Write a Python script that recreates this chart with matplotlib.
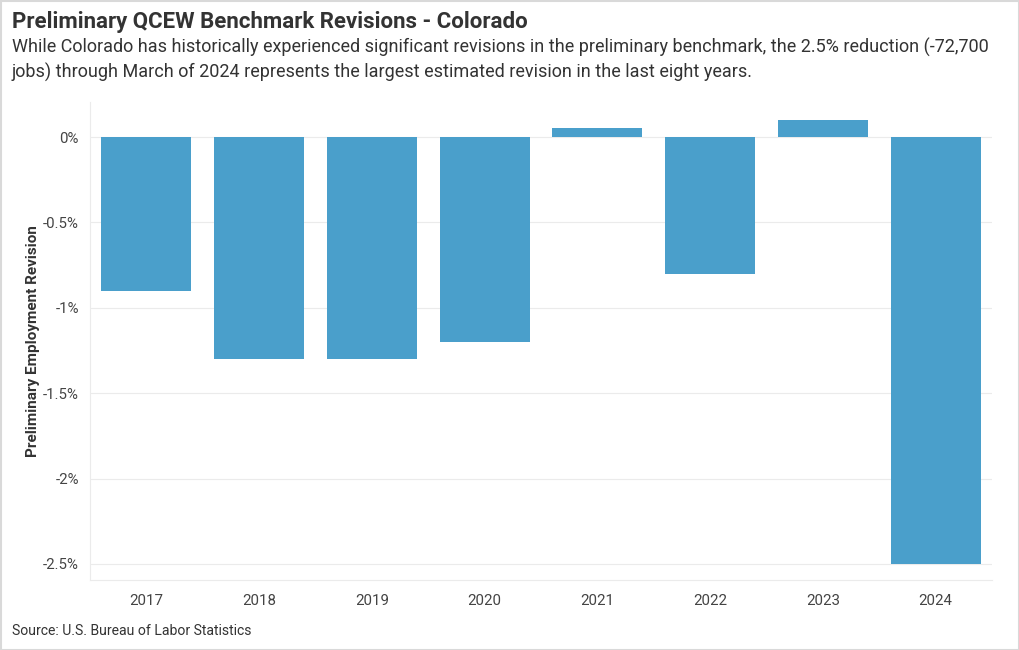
import matplotlib
matplotlib.use("Agg")
import matplotlib.pyplot as plt
from matplotlib.patches import Rectangle

years = ["2017", "2018", "2019", "2020", "2021", "2022", "2023", "2024"]
revisions = [-0.9, -1.3, -1.3, -1.2, 0.05, -0.8, 0.1, -2.5]
yticks = [0, -0.5, -1, -1.5, -2, -2.5]
ytick_labels = ["0%", "-0.5%", "-1%", "-1.5%", "-2%", "-2.5%"]

plt.rcParams['font.family'] = ['Roboto', 'DejaVu Sans']

W, H = 1020, 650
fig = plt.figure(figsize=(W / 100, H / 100), dpi=100)
ax = fig.add_axes([90 / W, 1 - 580 / H, (992 - 90) / W, (580 - 102) / H])

x = list(range(len(years)))
ax.bar(x, revisions, width=0.8, color="#4a9fcb", zorder=3)
ax.set_xlim(-0.5, len(years) - 0.5)
ax.set_ylim(-2.594, 0.205)
ax.set_xticks(x)
ax.set_xticklabels(years)
ax.set_yticks(yticks)
ax.set_yticklabels(ytick_labels)
ax.tick_params(axis="both", length=0, labelsize=10.8, colors="#444444")
ax.tick_params(axis="x", pad=10)
ax.tick_params(axis="y", pad=8)
ax.grid(axis="y", color="#ebebeb", linewidth=0.8, zorder=0)
for s in ["top", "right"]:
    ax.spines[s].set_visible(False)
ax.spines["left"].set_color("#ebebeb")
ax.spines["bottom"].set_color("#ebebeb")
ax.set_ylabel("Preliminary Employment Revision", fontsize=11, fontweight="bold",
              color="#333333", labelpad=2)

fig.text(12 / W, 1 - 22 / H, "Preliminary QCEW Benchmark Revisions - Colorado",
         fontsize=16, fontweight="bold", color="#333333", va="center", ha="left")
fig.text(12 / W, 1 - 47 / H, "While Colorado has historically experienced significant revisions in the preliminary benchmark, the 2.5% reduction (-72,700",
         fontsize=12.95, color="#333333", va="center", ha="left")
fig.text(12 / W, 1 - 72 / H, "jobs) through March of 2024 represents the largest estimated revision in the last eight years.",
         fontsize=12.95, color="#333333", va="center", ha="left")
fig.text(12 / W, 1 - 631 / H, "Source: U.S. Bureau of Labor Statistics",
         fontsize=10.1, color="#333333", va="center", ha="left")

fig.patches.append(Rectangle((0.5 / W, 0.5 / H), 1 - 1.5 / W, 1 - 1.5 / H, transform=fig.transFigure,
                             fill=False, edgecolor="#d9d9d9", linewidth=1.5))

fig.savefig("out.png", dpi=100)
